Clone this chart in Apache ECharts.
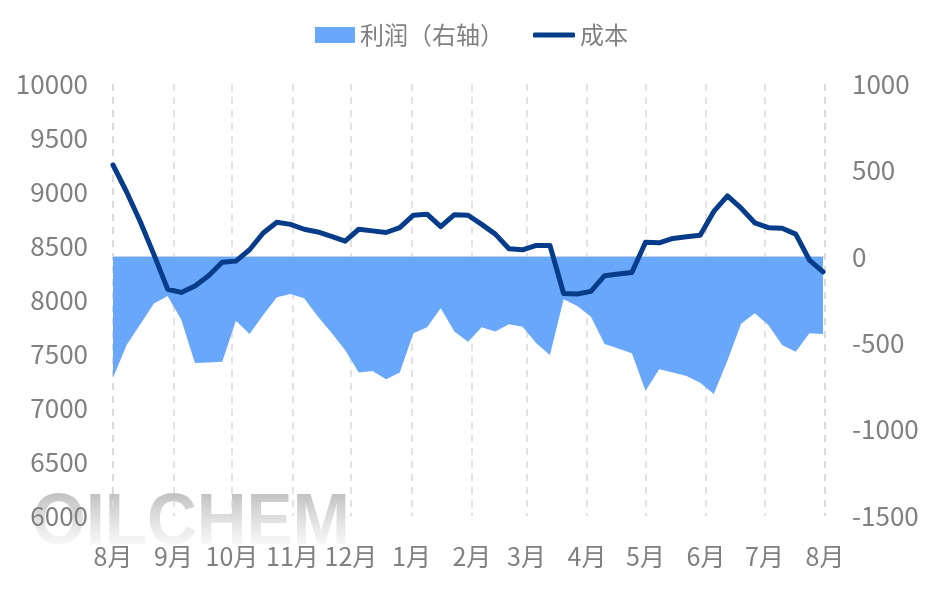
<!DOCTYPE html>
<html>
<head>
<meta charset="utf-8">
<script src="https://cdn.jsdelivr.net/npm/echarts@6/dist/echarts.min.js"></script>
<style>
html,body{margin:0;padding:0;background:#fff;}
#c{width:935px;height:591px;}
</style>
</head>
<body>
<div id="c"></div>
<script>
var weeks = [
'2022-08-01','2022-08-08','2022-08-15','2022-08-22','2022-08-29',
'2022-09-05','2022-09-12','2022-09-19','2022-09-26',
'2022-10-03','2022-10-10','2022-10-17','2022-10-24','2022-10-31',
'2022-11-07','2022-11-14','2022-11-21','2022-11-28',
'2022-12-05','2022-12-12','2022-12-19','2022-12-26',
'2023-01-02','2023-01-09','2023-01-16','2023-01-23','2023-01-30',
'2023-02-06','2023-02-13','2023-02-20','2023-02-27',
'2023-03-06','2023-03-13','2023-03-20','2023-03-27',
'2023-04-03','2023-04-10','2023-04-17','2023-04-24',
'2023-05-01','2023-05-08','2023-05-15','2023-05-22','2023-05-29',
'2023-06-05','2023-06-12','2023-06-19','2023-06-26',
'2023-07-03','2023-07-10','2023-07-17','2023-07-24','2023-07-31'
];
var cost = [
9250,9000,8725,8420,8100,8070,8130,8225,8350,8360,
8465,8620,8720,8700,8655,8630,8590,8545,8655,8640,
8625,8670,8785,8795,8680,8790,8785,8700,8610,8475,
8465,8505,8505,8060,8055,8080,8225,8240,8255,8535,
8530,8570,8585,8600,8820,8965,8850,8715,8670,8665,
8610,8370,8260
];
var profit = [
-700,-510,-390,-270,-227,-365,-615,-612,-607,-370,
-447,-337,-234,-215,-240,-346,-439,-539,-670,-661,
-709,-670,-443,-408,-298,-433,-491,-408,-433,-391,
-405,-501,-569,-246,-285,-347,-505,-530,-558,-775,
-651,-670,-690,-729,-794,-600,-387,-327,-395,-510,
-549,-443,-447
];
var axisStart = '2022-08-01';
var axisEnd = '2023-08-01';
var seriesNames = ['利润（右轴）','成本'];
var watermarkText = 'OILCHEM';

function pairs(vals){ return vals.map(function(v,i){ return [weeks[i], v]; }); }

// watermark drawn into an offscreen canvas (gradient grey letters)
function makeWatermark(){
  var cv = document.createElement('canvas');
  cv.width = 340; cv.height = 72;
  var ctx = cv.getContext('2d');
  ctx.font = 'bold 72px "Liberation Sans", Arial, sans-serif';
  ctx.textBaseline = 'alphabetic';
  var g = ctx.createLinearGradient(0, 8, 0, 66);
  g.addColorStop(0, 'rgba(175,175,175,0.85)');
  g.addColorStop(1, 'rgba(245,245,245,0.6)');
  ctx.fillStyle = g;
  ctx.fillText(watermarkText, 2, 63, 318);
  return cv;
}

var chart = echarts.init(document.getElementById('c'));
var font = '"Noto Sans CJK SC", "Noto Sans", sans-serif';
var grey = '#808080';
var blue = '#69a7fb';
var navy = '#073c8a';
chart.setOption({
  animation:false,
  textStyle:{fontFamily:font},
  graphic:[{
    type:'image', left:30, top:481, z:-10, silent:true,
    style:{image:makeWatermark(), width:340, height:72}
  }],
  legend:[{
    top:18, left:310, itemWidth:40, itemHeight:16, itemGap:10,
    textStyle:{fontSize:24, color:grey, fontFamily:font},
    data:[{name:seriesNames[0], icon:'rect', itemStyle:{color:blue}}]
  },{
    top:18, left:528, itemWidth:42, itemHeight:5, itemGap:10,
    textStyle:{fontSize:24, color:grey, fontFamily:font},
    data:[{name:seriesNames[1], icon:'roundRect', itemStyle:{color:navy}}]
  }],
  grid:{left:113, right:110, top:84, bottom:75, containLabel:false},
  xAxis:{
    type:'time', min:axisStart, max:axisEnd, splitNumber:12,
    minInterval:28*86400000, maxInterval:31*86400000,
    axisLine:{show:true, lineStyle:{color:'#d9d9d9', width:1.5}},
    axisTick:{show:false},
    splitLine:{show:true, lineStyle:{color:'#d9d9d9', type:[7,6], width:1.5}},
    axisLabel:{
      color:grey, fontSize:25, margin:28, hideOverlap:false, showMinLabel:true, showMaxLabel:true,
      formatter:function(v){ return (new Date(v).getMonth()+1)+'月'; }
    }
  },
  yAxis:[
    {type:'value', min:6000, max:10000, interval:500,
     axisLine:{show:false}, axisTick:{show:false}, splitLine:{show:false},
     axisLabel:{color:grey, fontSize:26, margin:25, formatter:function(v){return String(v);}}},
    {type:'value', min:-1500, max:1000, interval:500,
     axisLine:{show:false}, axisTick:{show:false}, splitLine:{show:false},
     axisLabel:{color:grey, fontSize:26, margin:27, formatter:function(v){return String(v);}}}
  ],
  series:[
    {name:seriesNames[0], type:'line', yAxisIndex:1, data:pairs(profit),
     showSymbol:false, symbol:'none', lineStyle:{width:0},
     itemStyle:{color:blue},
     areaStyle:{color:blue, opacity:1}, z:1},
    {name:seriesNames[1], type:'line', yAxisIndex:0, data:pairs(cost),
     showSymbol:false, symbol:'none',
     lineStyle:{width:5, color:navy, cap:'round', join:'round'},
     itemStyle:{color:navy}, z:3}
  ]
});
</script>
</body>
</html>
